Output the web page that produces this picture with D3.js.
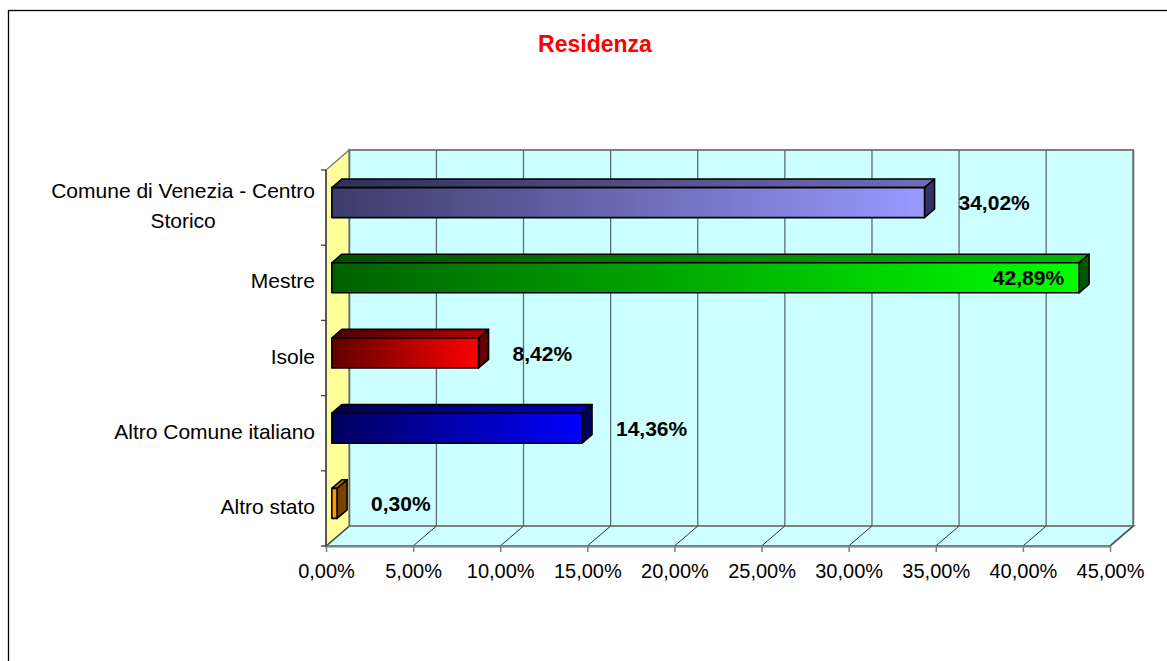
<!DOCTYPE html>
<html>
<head>
<meta charset="utf-8">
<script src="https://cdn.jsdelivr.net/npm/d3@7"></script>
<style>
  body { margin: 0; background: #fff; }
  text { font-family: "Liberation Sans", Arial, sans-serif; }
</style>
</head>
<body>
<svg id="chart" width="1167" height="661"></svg>
<script>
// data
var categories = ["Comune di Venezia - Centro Storico", "Mestre", "Isole", "Altro Comune italiano", "Altro stato"];
var categoryLines = [["Comune di Venezia - Centro", "Storico"], ["Mestre"], ["Isole"], ["Altro Comune italiano"], ["Altro stato"]];
var values = [34.02, 42.89, 8.42, 14.36, 0.30];
var xTicks = [0, 5, 10, 15, 20, 25, 30, 35, 40, 45];
var title = "Residenza";

// bar colours: [dark left, light right, side]
var barColors = [
    ["#3c3c6a", "#9999ff", "#333366"],
    ["#006000", "#00ff00", "#005500"],
    ["#600000", "#ff0000", "#660000"],
    ["#000060", "#0000ff", "#000055"],
    ["#ff9900", "#ff9900", "#774400"]
];

var svg = d3.select("#chart");

// outer frame
svg.append("rect")
    .attr("x", 8.5).attr("y", 10.5)
    .attr("width", 1170).attr("height", 670)
    .attr("fill", "#fff").attr("stroke", "#000").attr("stroke-width", 1.3);

// title
svg.append("text")
    .attr("x", 595).attr("y", 52)
    .attr("text-anchor", "middle")
    .attr("fill", "#ff0000")
    .style("font-weight", "bold").style("font-size", "23px")
    .text(title);

// front plane scales and the depth offset
var x = d3.scaleLinear().domain([0, 45]).range([326, 1110]);
var y = d3.scaleBand().domain(categories).range([170, 546]);
var depthX = 23.3, depthY = -20;

function px(v, z) { return x(v) + z * depthX; }
function py(yy, z) { return yy + z * depthY; }
function pts(list) { return list.map(function (p) { return p.join(","); }).join(" "); }

var y0 = y.range()[0], y1 = y.range()[1];
var xMin = x.domain()[0], xMax = x.domain()[1];

// back wall
svg.append("rect")
    .attr("x", px(xMin, 1)).attr("y", py(y0, 1))
    .attr("width", x(xMax) - x(xMin)).attr("height", y1 - y0)
    .attr("fill", "#ccffff").attr("stroke", "#808080").attr("stroke-width", 2);

// floor
svg.append("polygon")
    .attr("points", pts([[px(xMin, 0), y1], [px(xMax, 0), y1], [px(xMax, 1), py(y1, 1)], [px(xMin, 1), py(y1, 1)]]))
    .attr("fill", "#ccffff").attr("stroke", "#808080").attr("stroke-width", 2);

// left wall
svg.append("polygon")
    .attr("points", pts([[px(xMin, 0), y1], [px(xMin, 1), py(y1, 1)], [px(xMin, 1), py(y0, 1)], [px(xMin, 0), y0]]))
    .attr("fill", "#ffff99").attr("stroke", "#808080").attr("stroke-width", 1.5);

// gridlines on back wall and floor
var grid = svg.append("g");
xTicks.forEach(function (t) {
    grid.append("line")
        .attr("x1", px(t, 1)).attr("x2", px(t, 1))
        .attr("y1", py(y0, 1)).attr("y2", py(y1, 1))
        .attr("stroke", "#5a6e6e").attr("stroke-width", 1.3);
    grid.append("line")
        .attr("x1", px(t, 0)).attr("x2", px(t, 1))
        .attr("y1", y1).attr("y2", py(y1, 1))
        .attr("stroke", "#333").attr("stroke-width", 1);
});

// x axis at the front edge of the floor
var fmt = function (d) { return d3.format(".2f")(d).replace(".", ",") + "%"; };
var xAxis = svg.append("g")
    .attr("transform", "translate(0," + y1 + ")")
    .call(d3.axisBottom(x).tickValues(xTicks).tickFormat(fmt).tickSize(6).tickSizeOuter(0));
xAxis.select(".domain").attr("stroke", "#808080").attr("stroke-width", 2);
xAxis.selectAll(".tick line").attr("stroke", "#808080").attr("stroke-width", 1.5);
xAxis.selectAll("text")
    .attr("dy", "1.15em")
    .style("font-size", "20px").style("font-family", "'Liberation Sans', Arial, sans-serif")
    .attr("fill", "#000");

// y axis line with ticks on band edges
svg.append("line")
    .attr("x1", x(0)).attr("x2", x(0)).attr("y1", y0).attr("y2", y1)
    .attr("stroke", "#404040").attr("stroke-width", 1.5);
var edges = categories.map(function (c) { return y(c); }).concat([y1]);
svg.selectAll("line.ytick").data(edges).enter().append("line")
    .attr("class", "ytick")
    .attr("x1", x(0) - 5).attr("x2", x(0))
    .attr("y1", function (d) { return d; }).attr("y2", function (d) { return d; })
    .attr("stroke", "#404040").attr("stroke-width", 1.3);

// category labels
var labelRight = 315;
categories.forEach(function (c, i) {
    var lines = categoryLines[i];
    var cy = y(c) + y.bandwidth() / 2 - 2;
    var g = svg.append("g");
    var texts = lines.map(function (l, j) {
        return g.append("text")
            .attr("y", cy + (j - (lines.length - 1) / 2) * 30)
            .attr("dy", "0.36em")
            .style("font-size", "21px")
            .text(l);
    });
    var maxW = d3.max(texts, function (t) { return t.node().getComputedTextLength(); });
    texts.forEach(function (t) {
        t.attr("x", labelRight - maxW / 2).attr("text-anchor", "middle");
    });
});

// gradients
var defs = svg.append("defs");
barColors.forEach(function (c, i) {
    var gr = defs.append("linearGradient").attr("id", "front" + i)
        .attr("x1", 0).attr("x2", 1).attr("y1", 0).attr("y2", 0);
    gr.append("stop").attr("offset", 0).attr("stop-color", c[0]);
    gr.append("stop").attr("offset", 1).attr("stop-color", c[1]);
    var gt = defs.append("linearGradient").attr("id", "top" + i)
        .attr("x1", 0).attr("x2", 1).attr("y1", 0).attr("y2", 0);
    gt.append("stop").attr("offset", 0).attr("stop-color", d3.color(c[0]).darker(0.6));
    gt.append("stop").attr("offset", 1).attr("stop-color", d3.color(c[1]).darker(0.9));
});

// bars (3D boxes)
var z0 = 0.25, z1 = 0.68, barH = 30;
var bars = svg.append("g");
categories.forEach(function (c, i) {
    var v = values[i];
    var cy = y(c) + y.bandwidth() / 2;
    var top = cy - barH / 2, bot = cy + barH / 2;
    var g = bars.append("g")
        .attr("stroke", "#000").attr("stroke-width", 1.6).attr("stroke-linejoin", "round");
    g.append("polygon")
        .attr("points", pts([[px(0, z0), py(top, z0)], [px(v, z0), py(top, z0)], [px(v, z1), py(top, z1)], [px(0, z1), py(top, z1)]]))
        .attr("fill", "url(#top" + i + ")");
    g.append("polygon")
        .attr("points", pts([[px(v, z0), py(top, z0)], [px(v, z1), py(top, z1)], [px(v, z1), py(bot, z1)], [px(v, z0), py(bot, z0)]]))
        .attr("fill", barColors[i][2]);
    g.append("rect")
        .attr("x", px(0, z0)).attr("y", py(top, z0))
        .attr("width", x(v) - x(0)).attr("height", barH)
        .attr("fill", "url(#front" + i + ")");

    // value label
    var lbl = svg.append("text")
        .attr("y", py(cy, z0))
        .attr("dy", "0.36em")
        .style("font-size", "21px").style("font-weight", "bold")
        .text(v.toFixed(2).replace(".", ",") + "%");
    var w = lbl.node().getComputedTextLength();
    var lx = px(v, z0) + 34;
    if (lx + w > x(xMax)) {
        lbl.attr("x", px(v, z0) - 15).attr("text-anchor", "end");
    } else {
        lbl.attr("x", lx);
    }
});
</script>
</body>
</html>
